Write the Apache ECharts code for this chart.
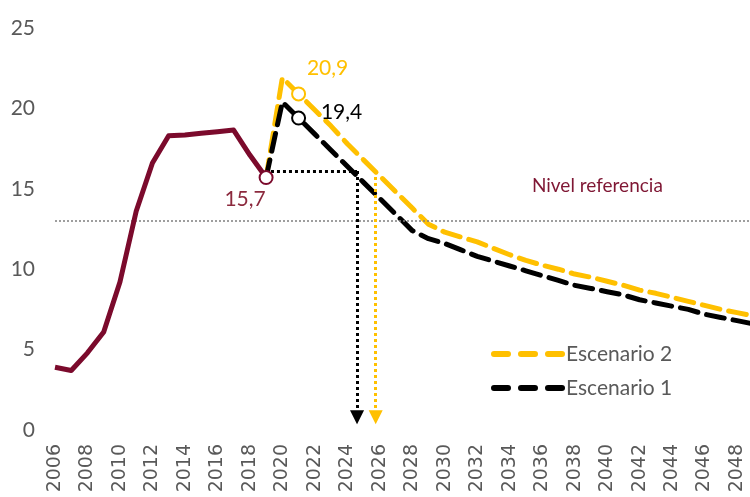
<!DOCTYPE html>
<html><head><meta charset="utf-8">
<script src="https://cdn.jsdelivr.net/npm/echarts@6/dist/echarts.min.js"></script>
<style>html,body{margin:0;padding:0;background:#fff}#c{width:750px;height:497px}</style>
</head><body><div id="c"></div>
<script>
// ---- data ----
const histYears = [2006,2007,2008,2009,2010,2011,2012,2013,2014,2015,2016,2017,2018,2019];
const histValues = [3.9,3.7,4.8,6.1,9.2,13.6,16.6,18.3,18.35,18.45,18.55,18.65,17.1,15.7];
const scenYears = [2019,2020,2021,2022,2023,2024,2025,2026,2027,2028,2029,2030,2031,2032,2033,2034,2035,2036,2037,2038,2039,2040,2041,2042,2043,2044,2045,2046,2047,2048,2049];
const scen1Values = [15.7,20.4,19.4,18.4,17.4,16.4,15.4,14.4,13.4,12.4,11.9,11.6,11.2,10.8,10.5,10.2,9.9,9.6,9.3,9.0,8.8,8.6,8.4,8.1,7.9,7.7,7.5,7.2,7.0,6.8,6.6];
const scen2Values = [15.7,21.9,20.9,19.9,18.9,17.8,16.8,15.8,14.8,13.8,12.8,12.3,12.0,11.7,11.3,10.9,10.55,10.25,10.0,9.7,9.5,9.25,9.0,8.7,8.5,8.25,8.0,7.75,7.5,7.3,7.1];
const seriesNames = ['Escenario 2','Escenario 1'];
const pointLabels = ['15,7','20,9','19,4'];
const referenceLevel = 13;
const referenceLabel = 'Nivel referencia';
const reachLevel = 16.1;
const reachYear1 = 2024.6;
const reachYear2 = 2025.75;
const arrowEnd = 0.8;
const yTicks = {min:0, max:25, interval:5};

const MAROON = '#7B0A2C', GOLD = '#FFC000', BLACK = '#000000', GREY = '#595959';
const FONT = 'Lato';

const zip = (xs, ys) => xs.map((x,i)=>[x, ys[i]]);
const dashIcon = 'path://M3,0H17A3,3 0 0 1 17,6H3A3,3 0 0 1 3,0Z M30,0H44A3,3 0 0 1 44,6H30A3,3 0 0 1 30,0Z M57,0H71A3,3 0 0 1 71,6H57A3,3 0 0 1 57,0Z';

const chart = echarts.init(document.getElementById('c'), null, {renderer:'canvas'});
chart.setOption({
  animation:false,
  backgroundColor:'#fff',
  grid:{left:55, right:0, top:28, bottom:67, containLabel:false},
  xAxis:{type:'value', min:2006, max:2048.8, interval:2,
    axisLine:{show:false}, axisTick:{show:false}, splitLine:{show:false},
    axisLabel:{rotate:90, margin:14, fontSize:19, color:GREY, fontFamily:'DejaVu Sans', showMaxLabel:false,
      formatter:v => (v % 2 === 0 ? String(v) : '')}},
  yAxis:{type:'value', min:yTicks.min, max:yTicks.max, interval:yTicks.interval,
    axisLine:{show:false}, axisTick:{show:false}, splitLine:{show:false},
    axisLabel:{margin:20, fontSize:21, color:GREY, fontFamily:FONT}},
  legend:{orient:'vertical', left:486, top:338, itemWidth:74, itemHeight:6, itemGap:12,
    icon:dashIcon, data:seriesNames,
    textStyle:{fontSize:21, color:GREY, fontFamily:FONT, padding:[0,0,0,-4], lineHeight:22}},
  series:[
    {name:'Referencia', type:'line', data:[], silent:true,
      markLine:{silent:true, symbol:['none','none'],
        lineStyle:{color:'#7f7f7f', type:[2,2], width:1.5},
        label:{show:false},
        data:[{yAxis:referenceLevel}]}},
    {name:seriesNames[0], type:'line', data:zip(scenYears, scen2Values), symbol:'none', z:3,
      color:GOLD,
      lineStyle:{color:GOLD, width:5, type:[18,9], cap:'round', join:'round'},
      markLine:{silent:true, symbol:['none','triangle'], symbolSize:[14,14],
        lineStyle:{color:GOLD, type:[3,3], width:3},
        label:{show:false},
        data:[[{coord:[reachYear2, reachLevel]},{coord:[reachYear2, arrowEnd]}]]}},
    {name:seriesNames[1], type:'line', data:zip(scenYears, scen1Values), symbol:'none', z:4,
      color:BLACK,
      lineStyle:{color:BLACK, width:5, type:[18,9], cap:'round', join:'round'},
      markLine:{silent:true, symbol:['none','none'],
        lineStyle:{color:BLACK, type:[3,3], width:3},
        label:{show:false},
        data:[[{coord:[2019.3, reachLevel]},{coord:[reachYear1, reachLevel]}]]}},
    {name:'Arrow1', type:'line', data:[], z:4,
      markLine:{silent:true, symbol:['none','triangle'], symbolSize:[14,14],
        lineStyle:{color:BLACK, type:[3,3], width:3},
        label:{show:false},
        data:[[{coord:[reachYear1, reachLevel]},{coord:[reachYear1, arrowEnd]}]]}},
    {name:'Histórico', type:'line', data:zip(histYears, histValues), symbol:'none', z:5,
      lineStyle:{color:MAROON, width:5, join:'round'}},
    {name:'Texto', type:'scatter', z:6, symbol:'circle', symbolSize:2, silent:true,
      itemStyle:{color:'rgba(255,255,255,0)', opacity:1},
      data:[{value:[2039.4, 15.2],
        label:{show:true, position:'inside', formatter:referenceLabel, color:'#7F1734', fontSize:19, fontFamily:FONT}}]},
    {name:'Puntos', type:'scatter', z:10, symbol:'circle', symbolSize:13,
      data:[
        {value:[2019, 15.7], itemStyle:{color:'#fff', borderColor:MAROON, borderWidth:2, opacity:1},
          label:{show:true, formatter:pointLabels[0], color:'#8C2A3E', offset:[-21,22], position:'inside'}},
        {value:[2021, 20.9], itemStyle:{color:'#fff', borderColor:GOLD, borderWidth:2, opacity:1},
          label:{show:true, formatter:pointLabels[1], color:GOLD, offset:[29,-26], position:'inside'}},
        {value:[2021, 19.4], itemStyle:{color:'#fff', borderColor:BLACK, borderWidth:2, opacity:1},
          label:{show:true, formatter:pointLabels[2], color:BLACK, offset:[43,-6], position:'inside'}}
      ],
      label:{fontSize:21, fontFamily:FONT}}
  ]
});
</script></body></html>
